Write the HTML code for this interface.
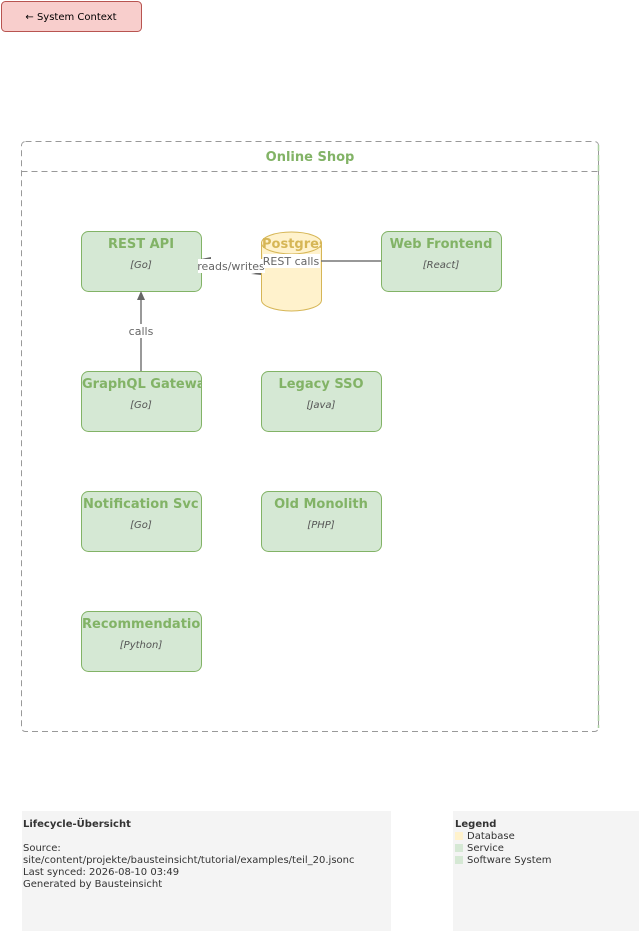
<!DOCTYPE html>
<html><head><meta charset="utf-8"><style>html,body{margin:0;padding:0;background:#fff}svg{display:block;font-family:"DejaVu Sans","Liberation Sans",sans-serif}</style></head>
<body>
<svg width="641" height="934" viewBox="0 0 641 934" xmlns="http://www.w3.org/2000/svg">
<defs>
<clipPath id="c1"><rect x="81" y="231" width="120" height="60"/></clipPath>
<clipPath id="c2"><rect x="261" y="231" width="60" height="80"/></clipPath>
<clipPath id="c3"><rect x="81" y="371" width="120" height="60"/></clipPath>
<clipPath id="c4"><rect x="81" y="491" width="120" height="60"/></clipPath>
<clipPath id="c5"><rect x="81" y="611" width="120" height="60"/></clipPath>
</defs>
<rect x="1.5" y="1.5" width="140" height="30" rx="4" fill="#f8cecc" stroke="#b85450"/>
<text x="71" y="20" font-size="10" text-anchor="middle" fill="#000">← System Context</text>

<rect x="21.5" y="141.5" width="577" height="590" rx="4" fill="none" stroke="#999" stroke-dasharray="6,4"/>
<line x1="598.5" y1="145" x2="598.5" y2="728" stroke="#a9cfa0" stroke-width="1.5" stroke-dasharray="6,4"/>
<line x1="21.5" y1="171.5" x2="598.5" y2="171.5" stroke="#999" stroke-dasharray="6,4"/>
<text x="310" y="161" font-size="13" font-weight="bold" text-anchor="middle" fill="#82b366">Online Shop</text>

<g font-size="10" fill="#555">
<rect x="81.5" y="231.5" width="120" height="60" rx="7" fill="#d5e8d4" stroke="#82b366"/>
<text x="141" y="248" font-size="13" font-weight="bold" text-anchor="middle" fill="#82b366">REST API</text>
<text x="141" y="268" font-size="10" font-style="italic" text-anchor="middle">[Go]</text>

<rect x="381.5" y="231.5" width="120" height="60" rx="7" fill="#d5e8d4" stroke="#82b366"/>
<text x="441" y="248" font-size="13" font-weight="bold" text-anchor="middle" fill="#82b366">Web Frontend</text>
<text x="441" y="268" font-size="10" font-style="italic" text-anchor="middle">[React]</text>

<rect x="81.5" y="371.5" width="120" height="60" rx="7" fill="#d5e8d4" stroke="#82b366"/>
<g clip-path="url(#c3)"><text x="82" y="388" font-size="13" font-weight="bold" fill="#82b366">GraphQL Gateway</text></g>
<text x="141" y="408" font-size="10" font-style="italic" text-anchor="middle">[Go]</text>

<rect x="261.5" y="371.5" width="120" height="60" rx="7" fill="#d5e8d4" stroke="#82b366"/>
<text x="321" y="388" font-size="13" font-weight="bold" text-anchor="middle" fill="#82b366">Legacy SSO</text>
<text x="321" y="408" font-size="10" font-style="italic" text-anchor="middle">[Java]</text>

<rect x="81.5" y="491.5" width="120" height="60" rx="7" fill="#d5e8d4" stroke="#82b366"/>
<g clip-path="url(#c4)"><text x="83" y="508" font-size="13" font-weight="bold" fill="#82b366">Notification Svc</text></g>
<text x="141" y="528" font-size="10" font-style="italic" text-anchor="middle">[Go]</text>

<rect x="261.5" y="491.5" width="120" height="60" rx="7" fill="#d5e8d4" stroke="#82b366"/>
<text x="321" y="508" font-size="13" font-weight="bold" text-anchor="middle" fill="#82b366">Old Monolith</text>
<text x="321" y="528" font-size="10" font-style="italic" text-anchor="middle">[PHP]</text>

<rect x="81.5" y="611.5" width="120" height="60" rx="7" fill="#d5e8d4" stroke="#82b366"/>
<g clip-path="url(#c5)"><text x="82" y="628" font-size="13" font-weight="bold" fill="#82b366">Recommendation</text></g>
<text x="141" y="648" font-size="10" font-style="italic" text-anchor="middle">[Python]</text>

<path d="M261.5,243 A30,11 0 0 1 321.5,243 L321.5,300 A30,11 0 0 1 261.5,300 Z" fill="#fff2cc" stroke="#d6b656"/>
<path d="M261.5,243 A30,11 0 0 0 321.5,243" fill="none" stroke="#d6b656"/>
<g clip-path="url(#c2)"><text x="262" y="248" font-size="13" font-weight="bold" fill="#d6b656">Postgres</text></g>

<line x1="321" y1="261" x2="381" y2="261" stroke="#777" stroke-width="1.5"/>
<path d="M201,259 L211,257 L211,260 Z" fill="#666"/>
<path d="M251,274 L261,272 L261,275 Z" fill="#666"/>
<rect x="198" y="259" width="67" height="14" fill="#fff"/>
<text x="231" y="270" font-size="11" text-anchor="middle" fill="#666">reads/writes</text>
<rect x="263" y="254" width="57" height="14" fill="#fff"/>
<text x="291" y="265" font-size="11" text-anchor="middle" fill="#666">REST calls</text>

<line x1="141" y1="371" x2="141" y2="299" stroke="#777" stroke-width="1.5"/>
<path d="M141,291 L145,300 L137,300 Z" fill="#666"/>
<rect x="127" y="324" width="29" height="14" fill="#fff"/>
<text x="141" y="335" font-size="11" text-anchor="middle" fill="#666">calls</text>
</g>

<rect x="22" y="811" width="369" height="120" fill="#f4f4f4"/>
<text x="23" y="827" font-size="10" font-weight="bold" fill="#333">Lifecycle-Übersicht</text>
<g font-size="10" fill="#333">
<text x="23" y="851">Source:</text>
<text x="23" y="863">site/content/projekte/bausteinsicht/tutorial/examples/teil_20.jsonc</text>
<text x="23" y="875">Last synced: 2026-08-10 03:49</text>
<text x="23" y="887">Generated by Bausteinsicht</text>
</g>
<rect x="453" y="811" width="186" height="120" fill="#f4f4f4"/>
<text x="455" y="827" font-size="10" font-weight="bold" fill="#333">Legend</text>
<rect x="455" y="832" width="8" height="8" fill="#fff2cc"/>
<rect x="455" y="844" width="8" height="8" fill="#d5e8d4"/>
<rect x="455" y="856" width="8" height="8" fill="#d5e8d4"/>
<g font-size="10" fill="#333">
<text x="467" y="839">Database</text>
<text x="467" y="851">Service</text>
<text x="467" y="863">Software System</text>
</g>
</svg>
</body></html>
